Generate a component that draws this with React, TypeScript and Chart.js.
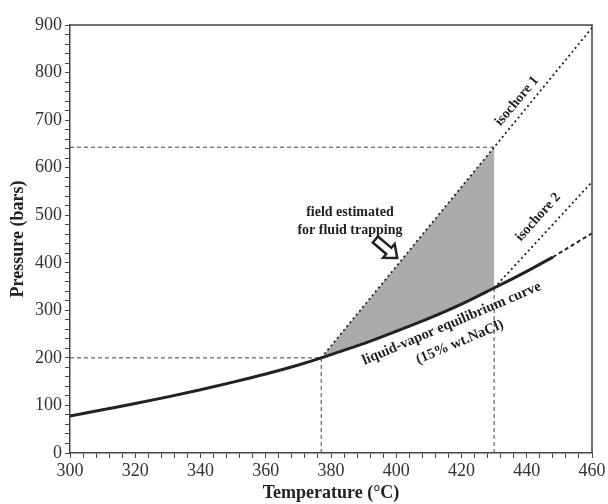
import { useEffect, useRef } from 'react';
import { Chart, registerables } from 'chart.js';

Chart.register(...registerables);

// ---- data (°C, bars) ----
const curveT = [300, 310, 320, 330, 340, 350, 360, 370, 377, 380, 390, 400, 410, 420, 430, 440, 448];
const curveP = [78, 91, 104, 118, 133, 149, 166, 185, 200, 207, 230, 256, 283, 313, 347, 382, 412];
const curveExtT = [448, 460];
const curveExtP = [412, 462];
const iso1T = [377, 430, 460];
const iso1P = [200, 643, 894];
const iso2T = [430, 460];
const iso2P = [347, 570];
const hGuideHighT = [300, 430];
const hGuideHighP = [643, 643];
const hGuideLowT = [300, 377];
const hGuideLowP = [200, 200];
const vGuideLeftT = [377, 377];
const vGuideLeftP = [0, 200];
const vGuideRightT = [430, 430];
const vGuideRightP = [0, 347];
const trapMinT = 377;
const trapMaxT = 430;

const xTitle = 'Temperature (°C)';
const yTitle = 'Pressure (bars)';

// ---- annotation placement (data units) ----
const notes = [
  { text: 'isochore 1', t: 437, p: 740, angle: 50, size: 14 },
  { text: 'isochore 2', t: 443.5, p: 496, angle: 48, size: 14 },
  { text: 'liquid-vapor equilibrium curve', t: 417, p: 272, angle: 23, size: 14.5 },
  { text: '(15% wt.NaCl)', t: 419.5, p: 233, angle: 23, size: 14.5 },
  { text: 'field estimated', t: 385.8, p: 505, angle: 0, size: 14 },
  { text: 'for fluid trapping', t: 385.8, p: 469, angle: 0, size: 14 },
];
const arrowTail = { t: 393.6, p: 449 };
const arrowTip = { t: 400.3, p: 410 };

const pts = (xs: number[], ys: number[]) => xs.map((x, i) => ({ x, y: ys[i] }));

const FONT = '"Liberation Serif", "Times New Roman", serif';
const INK = '#222';

export default function App() {
  const ref = useRef<HTMLCanvasElement | null>(null);

  useEffect(() => {
    if (!ref.current) return;

    // fill polygon: isochore 1 up to trapMaxT, then down the curve back to trapMinT
    const polyUp = pts(iso1T, iso1P).filter((d) => d.x >= trapMinT && d.x <= trapMaxT);
    const polyDown = pts(curveT, curveP)
      .filter((d) => d.x >= trapMinT && d.x <= trapMaxT)
      .reverse();
    const poly = [...polyUp, ...polyDown];

    const annot = {
      id: 'annot',
      afterDatasetsDraw(chart: any) {
        const { ctx, chartArea: a, scales } = chart;
        const xs = scales.x;
        const ys = scales.y;
        ctx.save();
        // frame
        ctx.strokeStyle = '#444';
        ctx.lineWidth = 1.5;
        ctx.beginPath();
        ctx.moveTo(a.left, a.top);
        ctx.lineTo(a.right, a.top);
        ctx.lineTo(a.right, a.bottom);
        ctx.stroke();

        // texts
        ctx.fillStyle = INK;
        ctx.textAlign = 'center';
        ctx.textBaseline = 'middle';
        for (const n of notes) {
          ctx.save();
          ctx.translate(xs.getPixelForValue(n.t), ys.getPixelForValue(n.p));
          ctx.rotate((-n.angle * Math.PI) / 180);
          ctx.font = `bold ${n.size}px ${FONT}`;
          ctx.fillText(n.text, 0, 0);
          ctx.restore();
        }

        // hollow block arrow
        const x0 = xs.getPixelForValue(arrowTail.t);
        const y0 = ys.getPixelForValue(arrowTail.p);
        const x1 = xs.getPixelForValue(arrowTip.t);
        const y1 = ys.getPixelForValue(arrowTip.p);
        const L = Math.hypot(x1 - x0, y1 - y0);
        const ang = Math.atan2(y1 - y0, x1 - x0);
        const sw = 4;
        const hw = 9;
        const hl = 11;
        ctx.translate(x0, y0);
        ctx.rotate(ang);
        ctx.beginPath();
        ctx.moveTo(0, -sw);
        ctx.lineTo(L - hl, -sw);
        ctx.lineTo(L - hl, -hw);
        ctx.lineTo(L, 0);
        ctx.lineTo(L - hl, hw);
        ctx.lineTo(L - hl, sw);
        ctx.lineTo(0, sw);
        ctx.closePath();
        ctx.fillStyle = '#fff';
        ctx.fill();
        ctx.lineWidth = 2.5;
        ctx.lineJoin = 'miter';
        ctx.strokeStyle = INK;
        ctx.stroke();
        ctx.restore();
      },
    };

    const guide = (xs: number[], ys: number[]) => ({
      data: pts(xs, ys),
      showLine: true,
      borderColor: '#444',
      borderWidth: 1,
      borderDash: [4, 3],
      pointRadius: 0,
      fill: false,
      order: 5,
    });

    const chart = new Chart(ref.current, {
      type: 'scatter',
      data: {
        datasets: [
          {
            data: poly,
            showLine: true,
            borderWidth: 0,
            borderColor: 'rgba(0,0,0,0)',
            backgroundColor: '#ababab',
            fill: 'shape',
            pointRadius: 0,
            order: 10,
          } as any,
          guide(hGuideHighT, hGuideHighP),
          guide(hGuideLowT, hGuideLowP),
          guide(vGuideLeftT, vGuideLeftP),
          guide(vGuideRightT, vGuideRightP),
          {
            data: pts(iso1T, iso1P),
            showLine: true,
            borderColor: INK,
            borderWidth: 1.8,
            borderDash: [2, 3],
            pointRadius: 0,
            order: 2,
          },
          {
            data: pts(iso2T, iso2P),
            showLine: true,
            borderColor: INK,
            borderWidth: 1.8,
            borderDash: [2, 3],
            pointRadius: 0,
            order: 2,
          },
          {
            data: pts(curveExtT, curveExtP),
            showLine: true,
            borderColor: INK,
            borderWidth: 2,
            borderDash: [4, 3],
            pointRadius: 0,
            order: 1,
          },
          {
            data: pts(curveT, curveP),
            showLine: true,
            borderColor: INK,
            borderWidth: 3,
            cubicInterpolationMode: 'monotone',
            pointRadius: 0,
            order: 0,
          } as any,
        ],
      },
      options: {
        animation: false,
        responsive: false,
        layout: { padding: { left: 0, right: 16, top: 25, bottom: 0 } },
        plugins: { legend: { display: false }, tooltip: { enabled: false } },
        scales: {
          x: {
            type: 'linear',
            min: 300,
            max: 460,
            afterFit: (s: any) => {
              s.height = 51;
            },
            ticks: {
              stepSize: 4,
              autoSkip: false,
              maxRotation: 0,
              minRotation: 0,
              padding: 2,
              color: '#333',
              font: { family: FONT, size: 18 },
              callback: (v: any) => (Number(v) % 20 === 0 ? String(v) : ''),
            },
            grid: { drawOnChartArea: false, drawTicks: true, tickLength: 5, color: '#444', tickWidth: 1 } as any,
            border: { display: true, color: '#444', width: 1.5 },
            title: {
              display: true,
              text: xTitle,
              color: INK,
              font: { family: FONT, size: 18, weight: 'bold' },
              padding: { top: 0, bottom: 0 },
            },
          },
          y: {
            type: 'linear',
            min: 0,
            max: 900,
            afterFit: (s: any) => {
              s.width = 70;
            },
            ticks: {
              stepSize: 20,
              autoSkip: false,
              padding: 3,
              color: '#333',
              font: { family: FONT, size: 18 },
              callback: (v: any) => (Number(v) % 100 === 0 ? String(v) : ''),
            },
            grid: { drawOnChartArea: false, drawTicks: true, tickLength: 5, color: '#444', tickWidth: 1 } as any,
            border: { display: true, color: '#444', width: 1.5 },
            title: {
              display: true,
              text: yTitle,
              color: INK,
              font: { family: FONT, size: 18, weight: 'bold' },
              padding: { top: 8, bottom: 0 },
            },
          },
        },
      },
      plugins: [annot],
    });

    return () => chart.destroy();
  }, []);

  return (
    <canvas
      ref={ref}
      width={608}
      height={504}
      style={{ position: 'absolute', left: 0, top: 0, display: 'block', background: '#fff' }}
    />
  );
}
